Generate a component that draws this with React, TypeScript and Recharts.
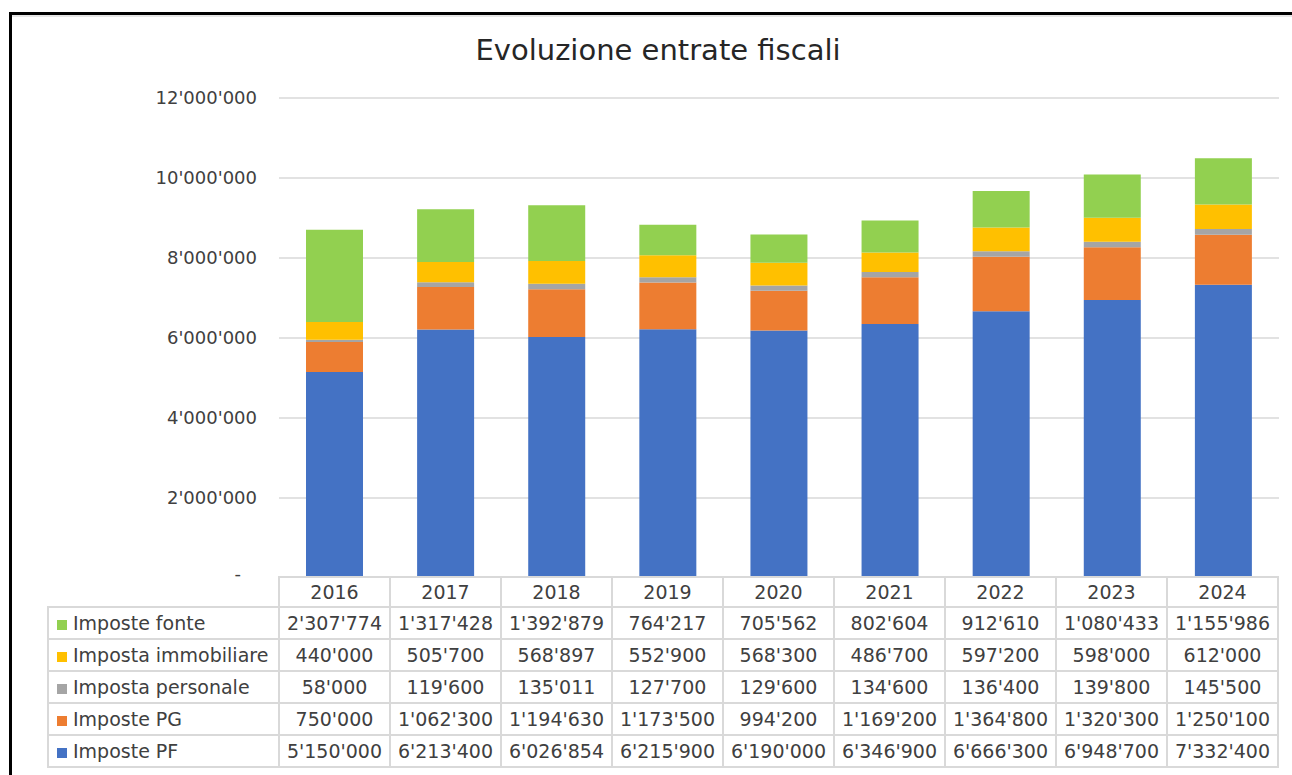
import { BarChart, Bar, XAxis, YAxis, CartesianGrid } from "recharts"

const years = ["2016", "2017", "2018", "2019", "2020", "2021", "2022", "2023", "2024"]

const impostePF = [5150000, 6213400, 6026854, 6215900, 6190000, 6346900, 6666300, 6948700, 7332400]
const impostePG = [750000, 1062300, 1194630, 1173500, 994200, 1169200, 1364800, 1320300, 1250100]
const impostaPersonale = [58000, 119600, 135011, 127700, 129600, 134600, 136400, 139800, 145500]
const impostaImmobiliare = [440000, 505700, 568897, 552900, 568300, 486700, 597200, 598000, 612000]
const imposteFonte = [2307774, 1317428, 1392879, 764217, 705562, 802604, 912610, 1080433, 1155986]

const yTicks = [0, 2000000, 4000000, 6000000, 8000000, 10000000, 12000000]

// bottom to top in the stack
const series = [
  { key: "pf", name: "Imposte PF", values: impostePF, color: "#4472C4" },
  { key: "pg", name: "Imposte PG", values: impostePG, color: "#ED7D31" },
  { key: "pers", name: "Imposta personale", values: impostaPersonale, color: "#A5A5A5" },
  { key: "immo", name: "Imposta immobiliare", values: impostaImmobiliare, color: "#FFC000" },
  { key: "fonte", name: "Imposte fonte", values: imposteFonte, color: "#92D050" },
]

const data = years.map((y, i) => {
  const row: Record<string, string | number> = { year: y }
  series.forEach((s) => (row[s.key] = s.values[i]))
  return row
})

const fmt = (v: number) => String(Math.round(v)).replace(/\B(?=(\d{3})+(?!\d))/g, "'")

const FONT = "'DejaVu Sans', sans-serif"
const TEXT = "#404040"
const GRID = "#d9d9d9"

function YTick(props: any) {
  const { x, y, payload } = props
  if (payload.value === 0) {
    return (
      <text x={x - 16} y={y} dy={2} textAnchor="end" fill={TEXT} fontSize={18} fontFamily={FONT}>
        -
      </text>
    )
  }
  return (
    <text x={x} y={y} dy={6} textAnchor="end" fill={TEXT} fontSize={18} fontFamily={FONT}>
      {fmt(payload.value)}
    </text>
  )
}

export default function App() {
  const cell: React.CSSProperties = {
    border: `2px solid ${GRID}`,
    padding: 0,
    textAlign: "center",
    verticalAlign: "middle",
    whiteSpace: "nowrap",
  }
  return (
    <div style={{ position: "absolute", left: 0, top: 0, width: 1292, height: 775, background: "#fff", fontFamily: FONT, color: TEXT, overflow: "hidden" }}>
      <div style={{ position: "absolute", left: 9, top: 12, right: 0, bottom: 0, borderLeft: "3px solid #000", borderTop: "3px solid #000", boxShadow: "inset 0 2px 0 #e6e6e6" }} />
      <div style={{ position: "absolute", left: 0, width: 1316, top: 33, textAlign: "center", fontSize: 29, color: "#262626" }}>
        Evoluzione entrate fiscali
      </div>
      <div style={{ position: "absolute", left: 0, top: 0 }}>
        <BarChart width={1292} height={600} data={data} margin={{ top: 98, right: 13, left: 0, bottom: 22 }}>
          <CartesianGrid vertical={false} stroke={GRID} strokeWidth={1.5} />
          <XAxis dataKey="year" hide />
          <YAxis
            width={279}
            domain={[0, 12000000]}
            ticks={yTicks}
            axisLine={false}
            tickLine={false}
            tickSize={0}
            tickMargin={22}
            tick={<YTick />}
            interval={0}
          />
          {series.map((s) => (
            <Bar key={s.key} dataKey={s.key} name={s.name} stackId="a" fill={s.color} barSize={57} isAnimationActive={false} />
          ))}
        </BarChart>
      </div>
      <table
        style={{
          position: "absolute",
          left: 47,
          top: 576,
          borderCollapse: "collapse",
          tableLayout: "fixed",
          width: 1230,
          fontSize: 19,
          color: TEXT,
          background: "transparent",
        }}
      >
        <colgroup>
          <col style={{ width: 231 }} />
          {years.map((y) => (
            <col key={y} style={{ width: 111 }} />
          ))}
        </colgroup>
        <tbody>
          <tr style={{ height: 30 }}>
            <td style={{ padding: 0, border: "none" }} />
            {years.map((y) => (
              <td key={y} style={{ ...cell, background: "#fff" }}>
                {y}
              </td>
            ))}
          </tr>
          {[...series].reverse().map((s) => (
            <tr key={s.key} style={{ height: 32 }}>
              <td style={{ ...cell, textAlign: "left", paddingLeft: 8 }}>
                <span style={{ display: "inline-block", width: 10, height: 10, background: s.color, marginRight: 6 }} />
                {s.name}
              </td>
              {s.values.map((v, i) => (
                <td key={i} style={cell}>
                  {fmt(v)}
                </td>
              ))}
            </tr>
          ))}
        </tbody>
      </table>
    </div>
  )
}
